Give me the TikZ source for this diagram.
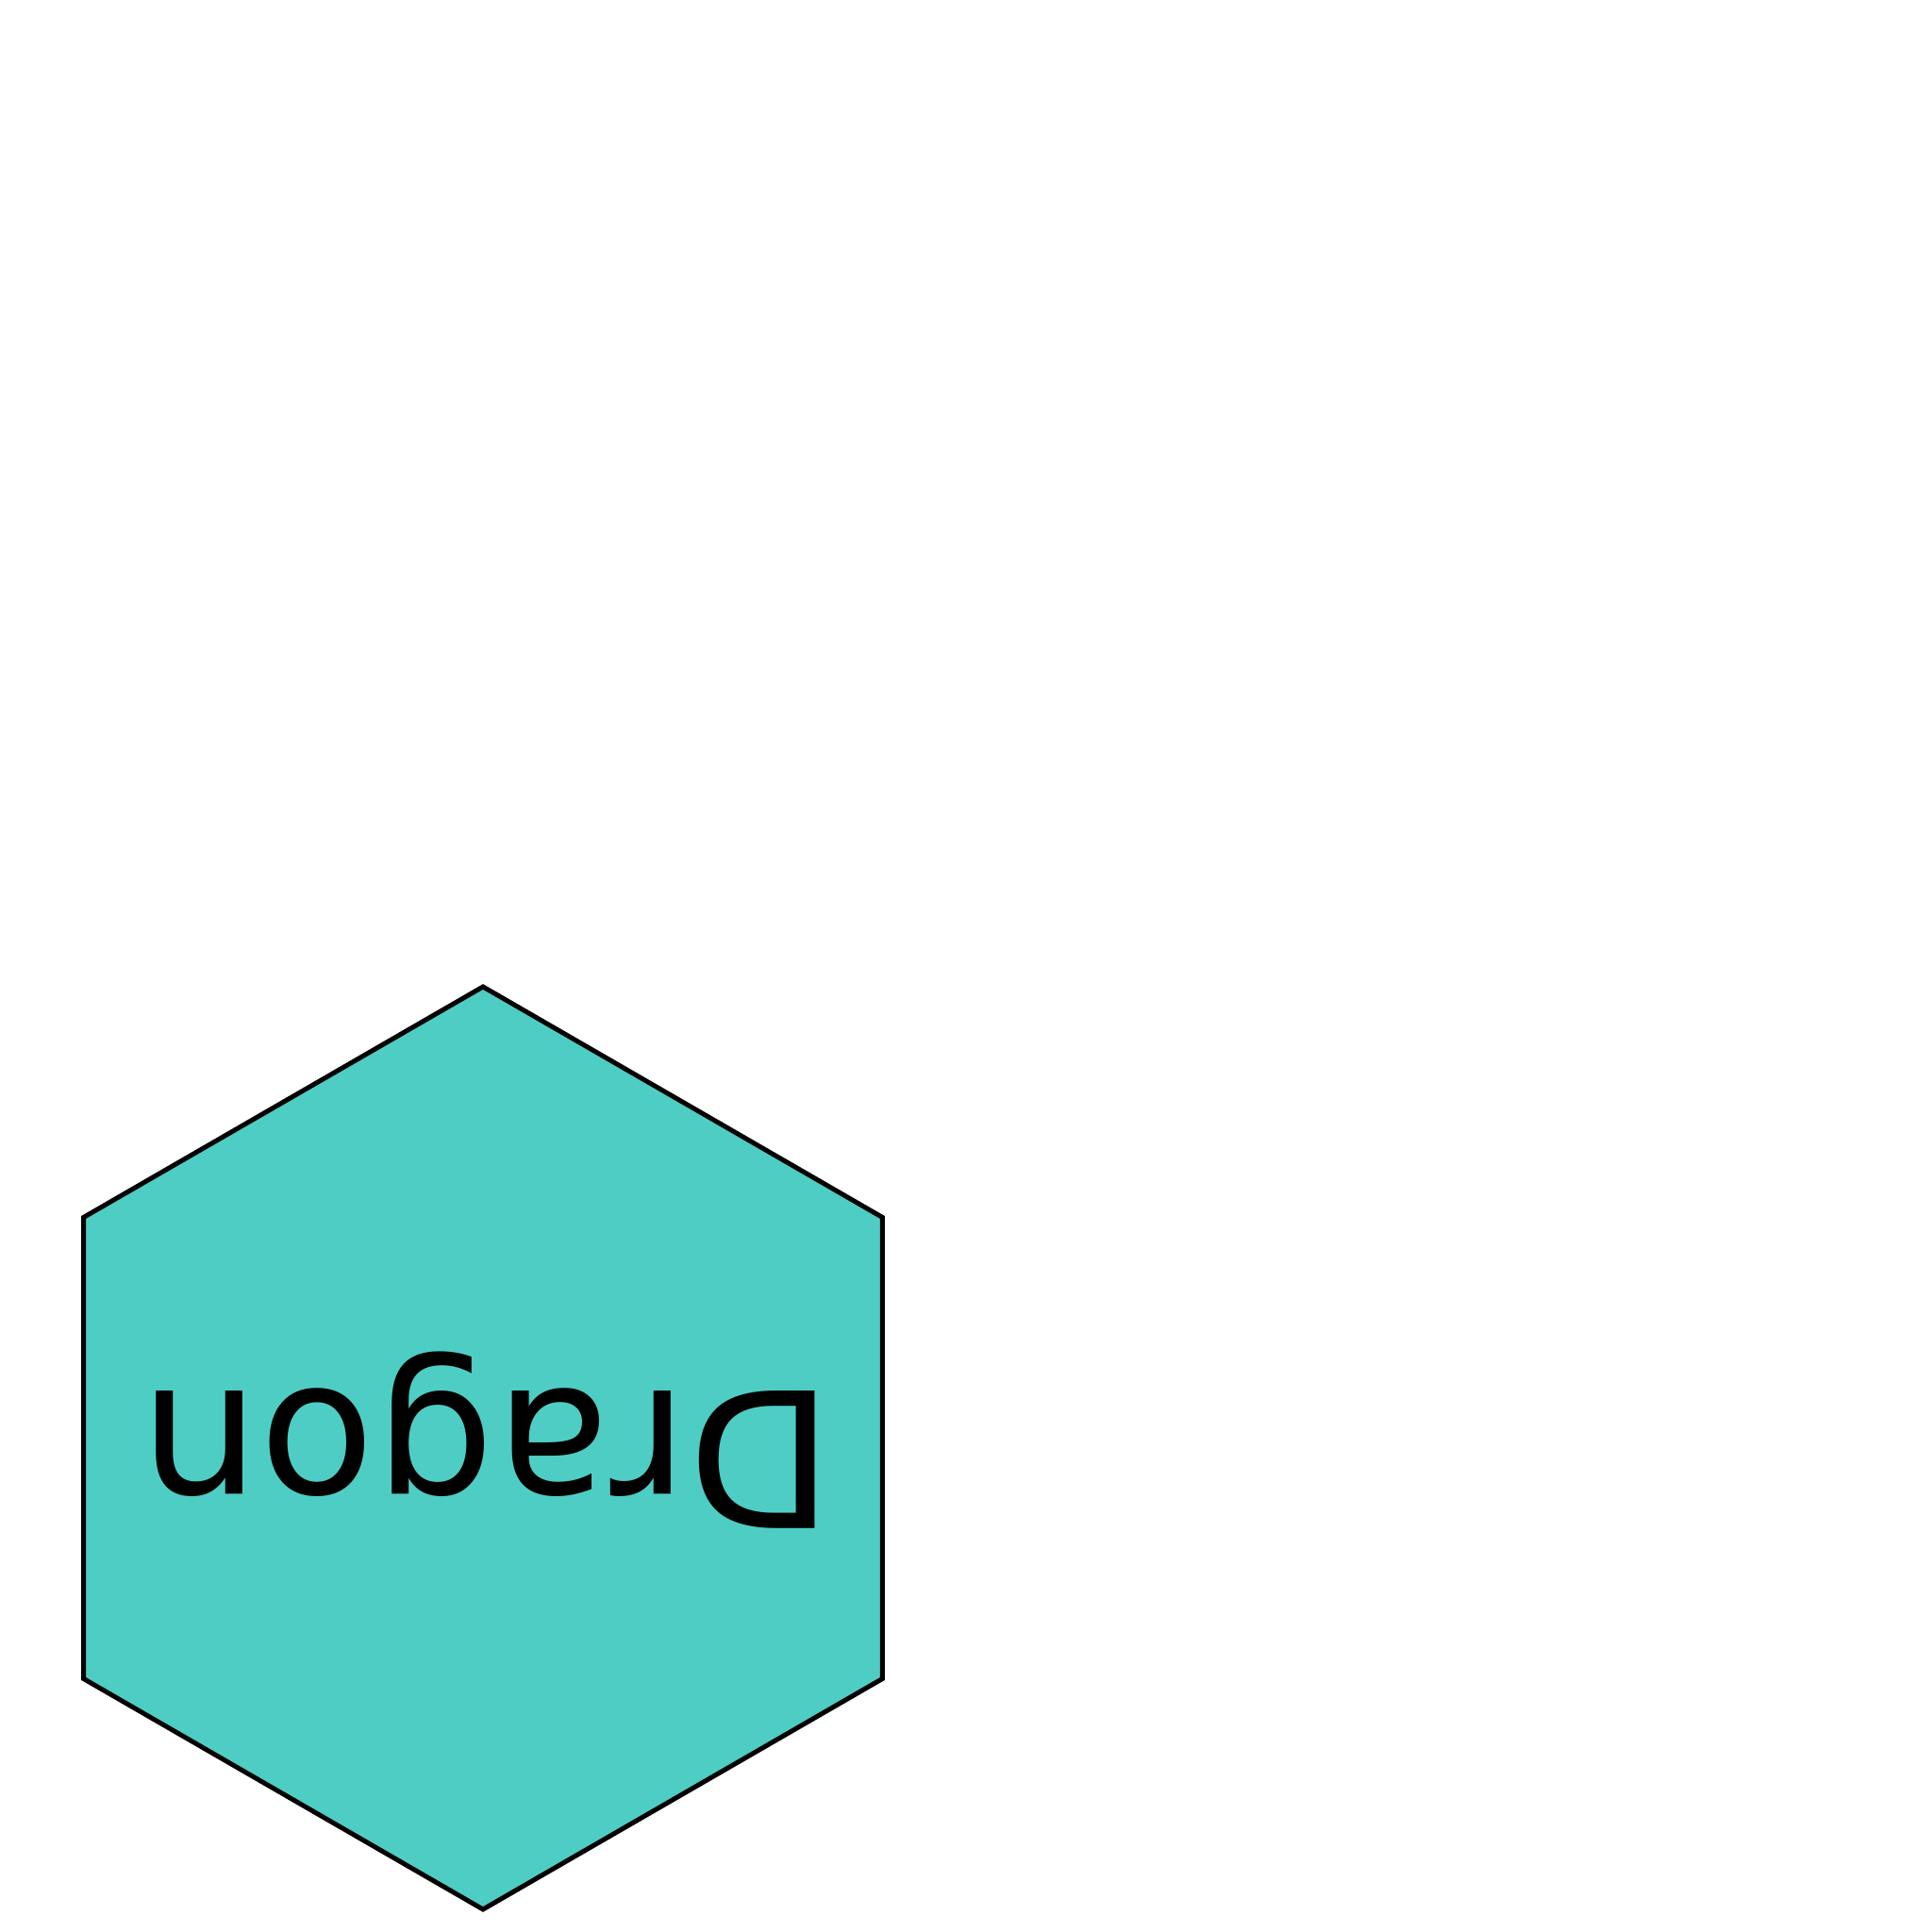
\documentclass[tikz,border=0pt]{standalone}
\usepackage{fontspec}
\setmainfont{DejaVu Sans}
\usetikzlibrary{calc}
\definecolor{hexfill}{HTML}{4ECDC4}
\tikzset{
  hexshape/.style={draw=black, line width=1.42pt, fill=hexfill, line join=miter},
  hexlabel/.style={inner sep=0pt, font=\fontsize{56.9pt}{68pt}\selectfont}
}
\begin{document}
\begin{tikzpicture}
\useasboundingbox (0,0) rectangle (20.48,20.48);
\coordinate (c) at (5.12,5.13);
\draw[hexshape] ($(c)+(90:4.89)$) -- ($(c)+(150:4.89)$) -- ($(c)+(210:4.89)$) -- ($(c)+(270:4.89)$) -- ($(c)+(330:4.89)$) -- ($(c)+(30:4.89)$) -- cycle;
\node[hexlabel, rotate=180] (dragon) at ($(c)+(0.04,0.08)$) {Dragon};
\end{tikzpicture}
\end{document}
